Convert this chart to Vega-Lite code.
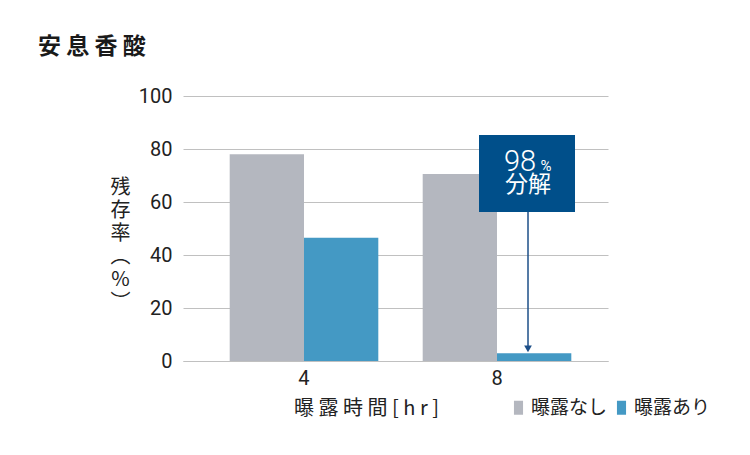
{
  "$schema": "https://vega.github.io/schema/vega-lite/v6.json",
  "width": 425,
  "height": 265,
  "autosize": {"type": "none"},
  "padding": {"left": 183, "top": 96, "right": 142, "bottom": 94},
  "background": "#ffffff",
  "title": {
    "text": "安 息 香 酸",
    "anchor": "start",
    "frame": "group",
    "dx": -145,
    "dy": 3,
    "offset": 30,
    "font": "Noto Sans CJK JP",
    "fontSize": 23,
    "fontWeight": "bold",
    "color": "#1a1a1a"
  },
  "config": {
    "view": {"stroke": null},
    "font": "Noto Sans CJK JP"
  },
  "layer": [
    {
      "data": {
        "values": [
          {"時間": "4", "条件": "曝露なし", "残存率": 78},
          {"時間": "4", "条件": "曝露あり", "残存率": 46.5},
          {"時間": "8", "条件": "曝露なし", "残存率": 70.6},
          {"時間": "8", "条件": "曝露あり", "残存率": 2.9}
        ]
      },
      "mark": {"type": "bar"},
      "encoding": {
        "x": {
          "field": "時間",
          "type": "nominal",
          "sort": ["4", "8"],
          "scale": {"paddingInner": 0.23, "paddingOuter": 0.216, "align": 0.56},
          "axis": {
            "title": "曝 露 時 間 [ h r ]",
            "labelAngle": 0,
            "labelFont": "Roboto",
            "labelFontSize": 20,
            "labelColor": "#222222",
            "labelPadding": 7,
            "ticks": false,
            "domain": true,
            "domainColor": "#c0c0c0",
            "titleFont": "Noto Sans CJK JP",
            "titleFontSize": 20,
            "titleFontWeight": "normal",
            "titleColor": "#222222",
            "titleX": 183,
            "titleY": 47,
            "titleBaseline": "middle",
            "titleAlign": "center"
          }
        },
        "xOffset": {
          "field": "条件",
          "type": "nominal",
          "scale": {"domain": ["曝露なし", "曝露あり"], "paddingInner": 0, "paddingOuter": 0}
        },
        "y": {
          "field": "残存率",
          "type": "quantitative",
          "scale": {"domain": [0, 100], "nice": false},
          "axis": {
            "values": [0, 20, 40, 60, 80, 100],
            "title": ["残", "存", "率", "︵", "%", "︶"],
            "titleAngle": 0,
            "titleFont": "Noto Sans CJK JP",
            "titleFontSize": 20,
            "titleFontWeight": "normal",
            "titleColor": "#222222",
            "titleLineHeight": 23,
            "titleX": -63,
            "titleY": 91,
            "titleAlign": "center",
            "titleBaseline": "middle",
            "labelFont": "Roboto",
            "labelFontSize": 20,
            "labelColor": "#222222",
            "labelPadding": 11,
            "ticks": false,
            "domain": false,
            "grid": true,
            "gridColor": "#c0c0c0",
            "gridWidth": 1
          }
        },
        "color": {
          "field": "条件",
          "type": "nominal",
          "scale": {"domain": ["曝露なし", "曝露あり"], "range": ["#b4b7bf", "#4499c4"]},
          "legend": {
            "title": null,
            "orient": "none",
            "direction": "horizontal",
            "legendX": 326,
            "legendY": 302,
            "symbolType": "M-0.65,-1H0.65V1H-0.65Z",
            "symbolSize": 196,
            "symbolStrokeWidth": 0,
            "labelFont": "Noto Sans CJK JP",
            "labelFontSize": 19,
            "labelColor": "#222222",
            "labelOffset": 3,
            "columnPadding": 4,
            "encode": {
              "symbols": {
                "update": {
                  "fill": {"signal": "datum.value === '曝露なし' ? '#868a96' : '#3a8fcd'"},
                  "opacity": {"value": 1}
                }
              }
            }
          }
        }
      }
    },
    {
      "data": {"values": [{"時間": "8", "下": 56.2, "上": 85.3}]},
      "mark": {"type": "bar", "width": 96, "color": "#004f8a", "xOffset": 30},
      "encoding": {
        "x": {"field": "時間", "type": "nominal"},
        "y": {"field": "下", "type": "quantitative"},
        "y2": {"field": "上"}
      }
    },
    {
      "data": {"values": [{"時間": "8", "始": 56.2, "終": 5.5}]},
      "mark": {"type": "rule", "color": "#1d4f88", "strokeWidth": 1.5, "xOffset": 31},
      "encoding": {
        "x": {"field": "時間", "type": "nominal"},
        "y": {"field": "始", "type": "quantitative"},
        "y2": {"field": "終"}
      }
    },
    {
      "data": {"values": [{"時間": "8", "先端": 4.6}]},
      "mark": {"type": "point", "shape": "triangle-down", "filled": true, "size": 60, "color": "#1d4f88", "opacity": 1, "xOffset": 31},
      "encoding": {
        "x": {"field": "時間", "type": "nominal"},
        "y": {"field": "先端", "type": "quantitative"}
      }
    },
    {
      "data": {"values": [{"時間": "8", "位置": 71.7, "文字": "98"}]},
      "mark": {"type": "text", "color": "#ffffff", "font": "Roboto", "fontSize": 29, "fontWeight": 300, "baseline": "alphabetic", "align": "center", "dx": 23},
      "encoding": {
        "x": {"field": "時間", "type": "nominal"},
        "y": {"field": "位置", "type": "quantitative"},
        "text": {"field": "文字"}
      }
    },
    {
      "data": {"values": [{"時間": "8", "位置": 71.7, "文字": "%"}]},
      "mark": {"type": "text", "color": "#ffffff", "font": "Roboto", "fontSize": 15, "baseline": "alphabetic", "align": "center", "dx": 49},
      "encoding": {
        "x": {"field": "時間", "type": "nominal"},
        "y": {"field": "位置", "type": "quantitative"},
        "text": {"field": "文字"}
      }
    },
    {
      "data": {"values": [{"時間": "8", "位置": 66.4, "文字": "分解"}]},
      "mark": {"type": "text", "color": "#ffffff", "font": "Noto Sans CJK JP", "fontSize": 23, "baseline": "middle", "align": "center", "dx": 31},
      "encoding": {
        "x": {"field": "時間", "type": "nominal"},
        "y": {"field": "位置", "type": "quantitative"},
        "text": {"field": "文字"}
      }
    }
  ]
}
